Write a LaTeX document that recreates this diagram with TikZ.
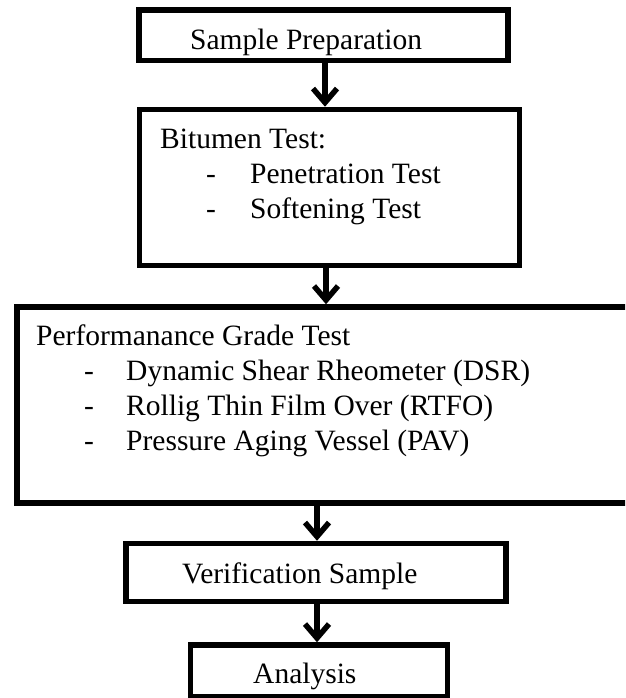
\documentclass[tikz,border=0pt]{standalone}
\usepackage{fontspec}
\setmainfont{Liberation Serif}
\usetikzlibrary{arrows.meta}
\begin{document}
\begin{tikzpicture}[x=1pt,y=-1pt,
  box/.style={draw, line width=5.5pt, inner sep=0pt},
  txt/.style={font=\fontsize{29.5}{35}\selectfont, inner sep=0pt, anchor=base west},
  flow/.style={line width=5.5pt, -{Straight Barb[length=14pt,width=24pt,line width=5.5pt]}}]
\useasboundingbox (0,0) rectangle (625,698);
\clip (0,0) rectangle (625,698);
% boxes
\node[box, minimum width=369pt, minimum height=50.5pt] (b1) at (323.5,35.25) {};
\node[box, minimum width=380pt, minimum height=156pt] (b2) at (329.5,187.5) {};
\node[box, minimum width=623pt, minimum height=196pt] (b3) at (328.5,405) {};
\node[box, minimum width=380pt, minimum height=58pt] (b4) at (316,572.5) {};
\node[box, minimum width=257pt, minimum height=52pt] (b5) at (319,671) {};
% texts
\node[txt] (t1) at (190,50) {Sample Preparation};
\node[txt] (t2a) at (160,148) {Bitumen Test:};
\node[txt] (t2b) at (206,183) {-};
\node[txt] (t2c) at (250,183) {Penetration Test};
\node[txt] (t2d) at (206,218) {-};
\node[txt] (t2e) at (250,218) {Softening Test};
\node[txt] (t3a) at (36,345) {Performanance Grade Test};
\node[txt] (t3b) at (84,380) {-};
\node[txt] (t3c) at (126,380) {Dynamic Shear Rheometer (DSR)};
\node[txt] (t3d) at (84,415) {-};
\node[txt] (t3e) at (126,415) {Rollig Thin Film Over (RTFO)};
\node[txt] (t3f) at (84,450) {-};
\node[txt] (t3g) at (126,450) {Pressure Aging Vessel (PAV)};
\node[txt] (t4) at (182,583) {Verification Sample};
\node[txt] (t5) at (253,683) {Analysis};
% arrows
\coordinate (a1) at (325,0);
\coordinate (a2) at (326,0);
\coordinate (a3) at (317,0);
\draw[flow] (b1.south -| a1) -- (b2.north -| a1);
\draw[flow] (b2.south -| a2) -- (b3.north -| a2);
\draw[flow] (b3.south -| a3) -- (b4.north -| a3);
\draw[flow] (b4.south -| a3) -- (b5.north -| a3);
\end{tikzpicture}
\end{document}
